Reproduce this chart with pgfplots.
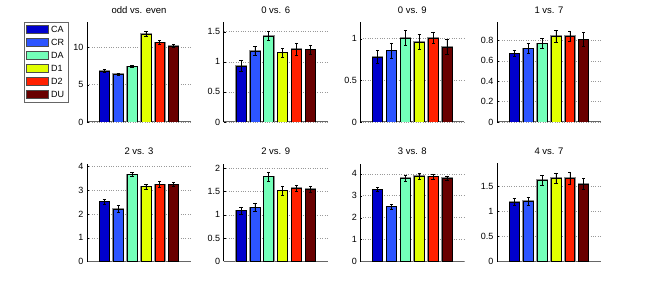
\documentclass[border=0pt]{standalone}
\usepackage{pgfplots}
\pgfplotsset{compat=1.18}
\usepackage{fontspec}
\setmainfont{Liberation Sans}
\definecolor{cCA}{RGB}{0,0,205}
\definecolor{cCR}{RGB}{45,85,255}
\definecolor{cDA}{RGB}{115,255,185}
\definecolor{cDI}{RGB}{225,255,0}
\definecolor{cDII}{RGB}{255,32,0}
\definecolor{cDU}{RGB}{105,0,0}
\newcommand{\barp}[4]{\addplot[fill=#1, draw=black, line width=0.6pt,
  preaction={draw=black!45, line width=1.6pt},
  error bars/.cd, y dir=both, y explicit,
  error bar style={black, line width=0.6pt},
  error mark options={rotate=90, mark size=1.6pt, black, line width=0.6pt}]
  coordinates {(#2,#3) +- (0,#4)};}
\pgfplotsset{
  chart/.style={
    scale only axis, width=104pt, height=100pt,
    anchor=north west,
    xmin=-0.25, xmax=7.25, ymin=0,
    ybar, bar width=0.72, bar shift=0pt,
    axis x line*=bottom, axis y line*=left,
    x axis line style={black!60, line width=1pt},
    y axis line style={black, line width=0.6pt},
    xtick=\empty,
    ymajorgrids, major grid style={dotted, black!40, line width=0.5pt},
    tick pos=left, major tick length=2pt,
    tick style={black},
    ticklabel style={font=\fontsize{9}{10}\selectfont},
    /pgf/number format/assume math mode=true,
    title style={font=\fontsize{9.5}{11}\selectfont, yshift=-1pt},
  }
}
\begin{document}
\begin{tikzpicture}
\useasboundingbox (0,0) rectangle (664pt,295pt);
% row 1
\begin{axis}[chart, at={(87pt,273pt)}, title={odd vs. even}, ymax=13.4, ytick={0,5,10},
  legend style={at={(axis description cs:-0.18,1)}, anchor=north east,
    draw=black!60, font=\fontsize{9}{10}\selectfont, inner sep=2pt, row sep=1.2pt},
  legend cell align=left,
  legend image code/.code={\draw[fill=#1, draw=black!70, line width=0.8pt] (0pt,-3.6pt) rectangle (22pt,4.2pt);}]
\addlegendimage{cCA}\addlegendentry{CA}
\addlegendimage{cCR}\addlegendentry{CR}
\addlegendimage{cDA}\addlegendentry{DA}
\addlegendimage{cDI}\addlegendentry{D1}
\addlegendimage{cDII}\addlegendentry{D2}
\addlegendimage{cDU}\addlegendentry{DU}
\barp{cCA}{1}{6.84}{0.2}
\barp{cCR}{2}{6.40}{0.1}
\barp{cDA}{3}{7.42}{0.15}
\barp{cDI}{4}{11.78}{0.35}
\barp{cDII}{5}{10.67}{0.28}
\barp{cDU}{6}{10.20}{0.25}
\end{axis}
\begin{axis}[chart, at={(223.7pt,273pt)}, title={0 vs. 6}, ymax=1.66, ytick={0,0.5,1,1.5}]
\barp{cCA}{1}{0.93}{0.09}
\barp{cCR}{2}{1.18}{0.07}
\barp{cDA}{3}{1.43}{0.08}
\barp{cDI}{4}{1.15}{0.08}
\barp{cDII}{5}{1.21}{0.10}
\barp{cDU}{6}{1.20}{0.08}
\end{axis}
\begin{axis}[chart, at={(360.3pt,273pt)}, title={0 vs. 9}, ymax=1.2, ytick={0,0.5,1}]
\barp{cCA}{1}{0.78}{0.08}
\barp{cCR}{2}{0.86}{0.09}
\barp{cDA}{3}{1.01}{0.09}
\barp{cDI}{4}{0.96}{0.09}
\barp{cDII}{5}{1.01}{0.07}
\barp{cDU}{6}{0.90}{0.09}
\end{axis}
\begin{axis}[chart, at={(497pt,273pt)}, title={1 vs. 7}, ymax=0.98, ytick={0,0.2,0.4,0.6,0.8}]
\barp{cCA}{1}{0.67}{0.03}
\barp{cCR}{2}{0.72}{0.05}
\barp{cDA}{3}{0.77}{0.05}
\barp{cDI}{4}{0.84}{0.06}
\barp{cDII}{5}{0.84}{0.05}
\barp{cDU}{6}{0.81}{0.07}
\end{axis}
% row 2
\begin{axis}[chart, at={(87pt,131.5pt)}, height=98pt, title={2 vs. 3}, ymax=4.13, ytick={0,1,2,3,4}]
\barp{cCA}{1}{2.53}{0.10}
\barp{cCR}{2}{2.22}{0.15}
\barp{cDA}{3}{3.67}{0.08}
\barp{cDI}{4}{3.15}{0.12}
\barp{cDII}{5}{3.24}{0.13}
\barp{cDU}{6}{3.25}{0.10}
\end{axis}
\begin{axis}[chart, at={(223.7pt,131.5pt)}, height=98pt, title={2 vs. 9}, ymax=2.1, ytick={0,0.5,1,1.5,2}]
\barp{cCA}{1}{1.09}{0.08}
\barp{cCR}{2}{1.16}{0.09}
\barp{cDA}{3}{1.82}{0.10}
\barp{cDI}{4}{1.52}{0.10}
\barp{cDII}{5}{1.57}{0.07}
\barp{cDU}{6}{1.55}{0.06}
\end{axis}
\begin{axis}[chart, at={(360.3pt,131.5pt)}, height=98pt, title={3 vs. 8}, ymax=4.47, ytick={0,1,2,3,4}]
\barp{cCA}{1}{3.29}{0.08}
\barp{cCR}{2}{2.50}{0.10}
\barp{cDA}{3}{3.80}{0.15}
\barp{cDI}{4}{3.90}{0.13}
\barp{cDII}{5}{3.87}{0.10}
\barp{cDU}{6}{3.80}{0.10}
\end{axis}
\begin{axis}[chart, at={(497pt,131.5pt)}, height=98pt, title={4 vs. 7}, ymax=1.96, ytick={0,0.5,1,1.5}]
\barp{cCA}{1}{1.19}{0.07}
\barp{cCR}{2}{1.21}{0.08}
\barp{cDA}{3}{1.63}{0.10}
\barp{cDI}{4}{1.67}{0.10}
\barp{cDII}{5}{1.67}{0.12}
\barp{cDU}{6}{1.55}{0.11}
\end{axis}
\end{tikzpicture}
\end{document}
